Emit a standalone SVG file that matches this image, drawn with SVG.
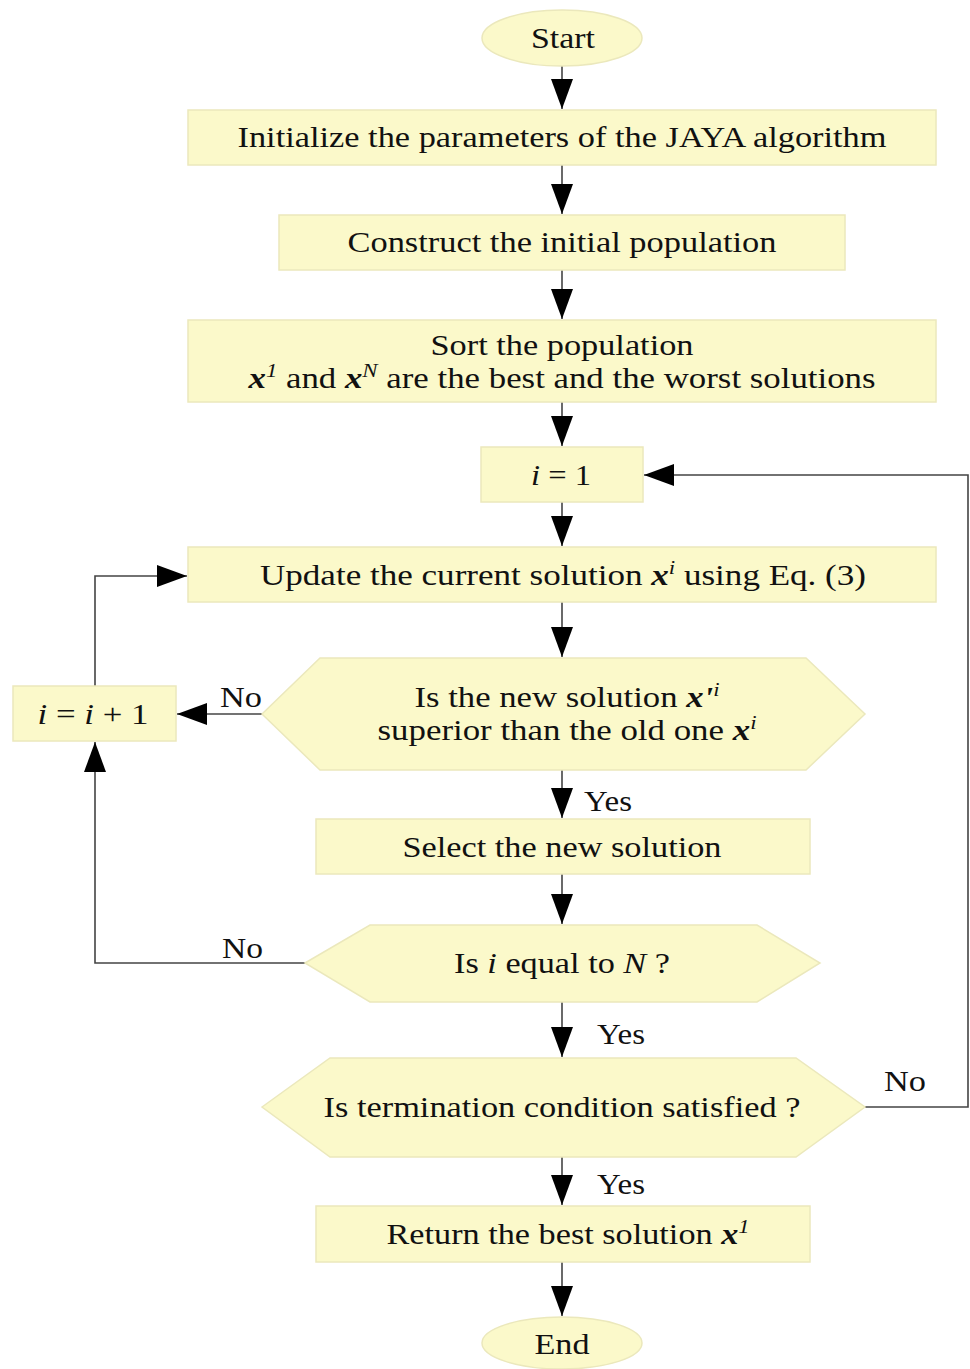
<svg xmlns="http://www.w3.org/2000/svg" width="970" height="1369" viewBox="0 0 970 1369">
<style>
.n{fill:#fbf9ca;stroke:#ebe8bc;stroke-width:1.5}
.t{font-family:"Liberation Serif","Times New Roman",serif;font-size:29px;fill:#111;text-anchor:middle}
.l{font-family:"Liberation Serif","Times New Roman",serif;font-size:29px;fill:#111}
.c{fill:none;stroke:#444;stroke-width:1.6}
.bx{font-weight:bold;font-style:italic}
.it{font-style:italic}
</style>
<defs>
<marker id="ah" markerUnits="userSpaceOnUse" markerWidth="32" markerHeight="22" refX="30" refY="11" orient="auto">
<path d="M0,0 L30,11 L0,22 z" fill="#000"/>
</marker>
</defs>
<rect width="970" height="1369" fill="#fff"/>
<g id="connectors">
<line class="c" x1="562" y1="66" x2="562" y2="109" marker-end="url(#ah)"/>
<line class="c" x1="562" y1="165" x2="562" y2="214" marker-end="url(#ah)"/>
<line class="c" x1="562" y1="270" x2="562" y2="319" marker-end="url(#ah)"/>
<line class="c" x1="562" y1="402" x2="562" y2="446" marker-end="url(#ah)"/>
<line class="c" x1="562" y1="502" x2="562" y2="546" marker-end="url(#ah)"/>
<line class="c" x1="562" y1="602" x2="562" y2="657" marker-end="url(#ah)"/>
<line class="c" x1="262" y1="714" x2="177" y2="714" marker-end="url(#ah)"/>
<polyline class="c" points="95,686 95,576 187,576" marker-end="url(#ah)"/>
<line class="c" x1="562" y1="770" x2="562" y2="818" marker-end="url(#ah)"/>
<line class="c" x1="562" y1="874" x2="562" y2="924" marker-end="url(#ah)"/>
<polyline class="c" points="305,963 95,963 95,742" marker-end="url(#ah)"/>
<line class="c" x1="562" y1="1002" x2="562" y2="1057" marker-end="url(#ah)"/>
<polyline class="c" points="865,1107 968,1107 968,475 644,475" marker-end="url(#ah)"/>
<line class="c" x1="562" y1="1157" x2="562" y2="1205" marker-end="url(#ah)"/>
<line class="c" x1="562" y1="1262" x2="562" y2="1316" marker-end="url(#ah)"/>
<text class="l" x="220" y="707" textLength="42" lengthAdjust="spacingAndGlyphs">No</text>
<text class="l" x="584" y="811" textLength="48" lengthAdjust="spacingAndGlyphs">Yes</text>
<text class="l" x="222" y="958" textLength="41" lengthAdjust="spacingAndGlyphs">No</text>
<text class="l" x="597" y="1044" textLength="48" lengthAdjust="spacingAndGlyphs">Yes</text>
<text class="l" x="884" y="1091" textLength="42" lengthAdjust="spacingAndGlyphs">No</text>
<text class="l" x="597" y="1194" textLength="48" lengthAdjust="spacingAndGlyphs">Yes</text>
</g>
<g id="start">
<ellipse class="n" cx="562" cy="38" rx="80" ry="28"/>
<text class="t" x="563" y="48" textLength="64" lengthAdjust="spacingAndGlyphs">Start</text>
</g>
<g id="init">
<rect class="n" x="188" y="110" width="748" height="55"/>
<text class="t" x="562" y="147" textLength="649" lengthAdjust="spacingAndGlyphs">Initialize the parameters of the JAYA algorithm</text>
</g>
<g id="construct">
<rect class="n" x="279" y="215" width="566" height="55"/>
<text class="t" x="562" y="252" textLength="429" lengthAdjust="spacingAndGlyphs">Construct the initial population</text>
</g>
<g id="sort">
<rect class="n" x="188" y="320" width="748" height="82"/>
<text class="t" x="562" y="355" textLength="263" lengthAdjust="spacingAndGlyphs">Sort the population</text>
<text class="t" x="562" y="388" textLength="627" lengthAdjust="spacingAndGlyphs"><tspan class="bx">x</tspan><tspan class="it" font-size="19" dy="-11">1</tspan><tspan dy="11">  and </tspan><tspan class="bx">x</tspan><tspan class="it" font-size="19" dy="-11">N</tspan><tspan dy="11"> are the best and the worst solutions</tspan></text>
</g>
<g id="i1">
<rect class="n" x="481" y="447" width="162" height="55"/>
<text class="t" x="561" y="485" textLength="60" lengthAdjust="spacingAndGlyphs"><tspan class="it">i</tspan> = 1</text>
</g>
<g id="update">
<rect class="n" x="188" y="547" width="748" height="55"/>
<text class="t" x="563" y="585" textLength="606" lengthAdjust="spacingAndGlyphs">Update the current solution  <tspan class="bx">x</tspan><tspan class="it" font-size="19" dy="-11">i</tspan><tspan dy="11"> using Eq. (3)</tspan></text>
</g>
<g id="superior">
<polygon class="n" points="262,714 320,658 806,658 865,714 806,770 320,770"/>
<text class="t" x="567" y="707" textLength="305" lengthAdjust="spacingAndGlyphs">Is the new solution <tspan class="bx">x</tspan><tspan class="bx">'</tspan><tspan class="it" font-size="19" dy="-11">i</tspan></text>
<text class="t" x="567" y="740" textLength="379" lengthAdjust="spacingAndGlyphs">superior than the old one <tspan class="bx">x</tspan><tspan class="it" font-size="19" dy="-11">i</tspan></text>
</g>
<g id="inc">
<rect class="n" x="13" y="686" width="163" height="55"/>
<text class="t" x="93" y="724" textLength="111" lengthAdjust="spacingAndGlyphs"><tspan class="it">i</tspan> = <tspan class="it">i</tspan> + 1</text>
</g>
<g id="select">
<rect class="n" x="316" y="819" width="494" height="55"/>
<text class="t" x="562" y="857" textLength="319" lengthAdjust="spacingAndGlyphs">Select the new solution</text>
</g>
<g id="equalN">
<polygon class="n" points="305,963 370,925 757,925 820,963 757,1002 370,1002"/>
<text class="t" x="562" y="973" textLength="216" lengthAdjust="spacingAndGlyphs">Is <tspan class="it">i</tspan> equal to <tspan class="it">N</tspan> ?</text>
</g>
<g id="termination">
<polygon class="n" points="262,1107 330,1058 796,1058 865,1107 796,1157 330,1157"/>
<text class="t" x="562" y="1117" textLength="477" lengthAdjust="spacingAndGlyphs">Is termination condition satisfied ?</text>
</g>
<g id="return">
<rect class="n" x="316" y="1206" width="494" height="56"/>
<text class="t" x="568" y="1244" textLength="363" lengthAdjust="spacingAndGlyphs">Return the best solution <tspan class="bx">x</tspan><tspan class="it" font-size="19" dy="-11">1</tspan></text>
</g>
<g id="end">
<ellipse class="n" cx="562" cy="1343" rx="80" ry="26"/>
<text class="t" x="562" y="1354" textLength="55" lengthAdjust="spacingAndGlyphs">End</text>
</g>
</svg>
